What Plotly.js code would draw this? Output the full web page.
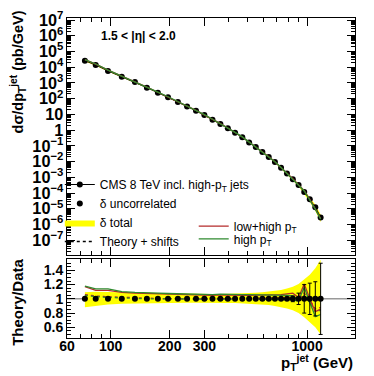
<!DOCTYPE html>
<html>
<head>
<meta charset="utf-8">
<script src="https://cdn.plot.ly/plotly-3.0.1.min.js"></script>
<style>
  html, body { margin: 0; padding: 0; background: #fff; }
  #chart { width: 374px; height: 376px; }
</style>
</head>
<body>
<div id="chart"></div>
<script>
// jet pT bins (GeV), 1.5 < |eta| < 2.0
const ptBins = [74, 84, 97, 114, 133, 153, 174, 196, 220, 245, 272, 300, 330, 362, 395,
    430, 468, 507, 548, 592, 638, 686, 737, 790, 846, 905, 967, 1032, 1101, 1172];

// measured cross section (pb/GeV)
const crossSection = [2.6e4, 1.4e4, 5.8e3, 2.5e3, 1.15e3, 500, 240, 123, 62, 32, 17, 9.1,
    4.6, 2.45, 1.29, 0.68, 0.35, 0.166, 0.083, 0.041, 0.0195, 0.0093, 0.0040, 1.74e-3,
    7.4e-4, 3.2e-4, 1.17e-4, 4.0e-5, 1.26e-5, 2.8e-6];

// relative uncertainties
const uncorrelated = [0.005, 0.005, 0.005, 0.005, 0.005, 0.005, 0.005, 0.005, 0.005, 0.005,
    0.005, 0.005, 0.005, 0.005, 0.005, 0.005, 0.006, 0.007, 0.008, 0.009, 0.01, 0.012,
    0.015, 0.02, 0.04, 0.08, 0.2, 0.22, 0.24, 0.5];
const totalUp = [0.094, 0.10, 0.095, 0.09, 0.09, 0.085, 0.08, 0.075, 0.072, 0.07, 0.068,
    0.067, 0.067, 0.068, 0.07, 0.072, 0.075, 0.08, 0.085, 0.092, 0.10, 0.11, 0.125, 0.145,
    0.17, 0.21, 0.27, 0.34, 0.43, 0.55];
const totalDown = [0.117, 0.10, 0.08, 0.07, 0.065, 0.06, 0.06, 0.058, 0.056, 0.055, 0.054,
    0.053, 0.053, 0.055, 0.057, 0.06, 0.064, 0.068, 0.073, 0.08, 0.088, 0.10, 0.115, 0.135,
    0.16, 0.20, 0.26, 0.33, 0.40, 0.50];

// theory / data
const ratioLowHigh = [1.17, 1.12, 1.12, 1.09, 1.08, 1.075, 1.07, 1.065, 1.06, 1.06, 1.055,
    1.055, 1.05, 1.055, 1.05, 1.05, 1.05, 1.05, 1.05, 1.05, 1.05, 1.05, 1.06, 1.07, 1.08,
    1.02, 1.21, 1.0, 0.82, 0.855];
const ratioHigh = [1.18, 1.14, 1.14, 1.10, 1.09, 1.08, 1.08, 1.075, 1.07, 1.065, 1.065,
    1.06, 1.06, 1.065, 1.06, 1.06, 1.06, 1.06, 1.06, 1.055, 1.055, 1.05, 1.05, 1.05, 1.04,
    0.98, 1.16, 0.96, 0.75, 0.78];
const shiftedLowHigh = [1.06, 1.04, 1.03, 1.02, 1.01, 1.01, 1.005, 1.0, 1.0, 1.0, 1.0, 1.0,
    1.0, 1.005, 1.0, 1.0, 1.0, 1.0, 1.0, 1.0, 1.0, 1.0, 1.005, 1.01, 1.02, 0.99, 1.08, 0.98,
    0.86, 0.88];
const shiftedHigh = [1.05, 1.03, 1.02, 1.01, 1.0, 1.0, 1.0, 1.0, 1.0, 0.995, 1.0, 1.0, 1.0,
    1.0, 1.0, 1.0, 1.0, 1.0, 1.0, 0.995, 0.995, 0.99, 0.99, 0.99, 0.99, 0.96, 1.05, 0.95,
    0.82, 0.84];

const xTickVals = [60, 100, 200, 300, 1000];
const xTickText = ["60", "100", "200", "300", "1000"];
const ratioTickVals = [0.6, 0.8, 1, 1.2, 1.4];
const ratioTickText = ["0.6", "0.8", "1", "1.2", "1.4"];
const unity = 1;

const RED = "#b52b2b";
const GREEN = "#2f8a2f";
const YELLOW = "#ffff00";
const FONT = "Liberation Sans, Arial, sans-serif";

const ones = ptBins.map(() => unity);
const bandTopUp = crossSection.map((v, i) => v * (1 + totalUp[i]));
const bandTopDown = crossSection.map((v, i) => v * (1 - totalDown[i]));
const bandRatioUp = totalUp.map((u) => unity + u);
const bandRatioDown = totalDown.map((d) => unity - d);

const traces = [
    // upper panel
    { x: ptBins, y: bandTopUp, xaxis: "x", yaxis: "y", mode: "lines",
      line: { width: 0, color: YELLOW }, showlegend: false, hoverinfo: "skip" },
    { x: ptBins, y: bandTopDown, xaxis: "x", yaxis: "y", mode: "lines", fill: "tonexty",
      fillcolor: YELLOW, line: { width: 0, color: YELLOW }, showlegend: false, hoverinfo: "skip" },
    { x: ptBins, y: crossSection, xaxis: "x", yaxis: "y", mode: "lines+markers",
      name: "CMS 8 TeV incl. high-p<sub>T</sub> jets", legend: "legend", legendrank: 1,
      line: { color: "#000", width: 1 }, marker: { color: "#000", size: 6 } },
    { x: ptBins, y: crossSection.map((v, i) => v * ratioLowHigh[i]), xaxis: "x", yaxis: "y",
      mode: "lines", line: { color: RED, width: 1.3 }, showlegend: false },
    { x: ptBins, y: crossSection.map((v, i) => v * ratioHigh[i]), xaxis: "x", yaxis: "y",
      mode: "lines", line: { color: GREEN, width: 1.3 }, showlegend: false },

    // ratio panel
    { x: ptBins, y: bandRatioUp, xaxis: "x2", yaxis: "y2", mode: "lines",
      line: { width: 0, color: YELLOW }, showlegend: false, hoverinfo: "skip" },
    { x: ptBins, y: bandRatioDown, xaxis: "x2", yaxis: "y2", mode: "lines", fill: "tonexty",
      fillcolor: YELLOW, line: { width: 0, color: YELLOW },
      name: "δ total", legend: "legend", legendrank: 3 },
    { x: ptBins, y: shiftedLowHigh, xaxis: "x2", yaxis: "y2", mode: "lines",
      line: { color: RED, width: 1.3, dash: "dot" }, showlegend: false },
    { x: ptBins, y: shiftedHigh, xaxis: "x2", yaxis: "y2", mode: "lines",
      line: { color: GREEN, width: 1.3, dash: "dot" }, showlegend: false },
    { x: ptBins, y: ratioLowHigh, xaxis: "x2", yaxis: "y2", mode: "lines",
      line: { color: RED, width: 1.3 }, name: "low+high p<sub>T</sub>", legend: "legend2" },
    { x: ptBins, y: ratioHigh, xaxis: "x2", yaxis: "y2", mode: "lines",
      line: { color: GREEN, width: 1.3 }, name: "high p<sub>T</sub>", legend: "legend3" },
    { x: ptBins, y: ones, xaxis: "x2", yaxis: "y2", mode: "markers",
      name: "δ uncorrelated", legend: "legend", legendrank: 2,
      marker: { color: "#000", size: 6 },
      error_y: { type: "data", array: uncorrelated, color: "#000", thickness: 1, width: 2 } },
    { x: [null], y: [null], xaxis: "x2", yaxis: "y2", mode: "lines",
      name: "Theory + shifts", legend: "legend", legendrank: 4,
      line: { color: "#000", width: 1.3, dash: "dot" } },
];

const xRange = [Math.log10(60), Math.log10(1753)];
const axisCommon = {
    type: "log",
    range: xRange,
    showline: true,
    linecolor: "#000",
    linewidth: 1,
    mirror: "allticks",
    ticks: "inside",
    ticklen: 8,
    tickcolor: "#000",
    showgrid: false,
    zeroline: false,
    tickvals: xTickVals,
    minor: { ticks: "inside", ticklen: 4, tickcolor: "#000", dtick: "D1", showgrid: false },
};

const legendFont = { family: FONT, size: 12, color: "#000" };
const tickFont = { family: FONT, size: 14, weight: "bold" };

const layout = {
    width: 374,
    height: 376,
    margin: { l: 67, r: 19, t: 18, b: 38 },
    paper_bgcolor: "#fff",
    plot_bgcolor: "#fff",
    font: { family: FONT, color: "#000" },
    xaxis: Object.assign({}, axisCommon, {
        anchor: "y",
        showticklabels: false,
    }),
    xaxis2: Object.assign({}, axisCommon, {
        anchor: "y2",
        matches: "x",
        ticktext: xTickText,
        tickfont: tickFont,
        ticklabelstandoff: -5,
    }),
    yaxis: {
        type: "log",
        domain: [0.259, 1],
        range: [-7.95, 7.13],
        dtick: 1,
        exponentformat: "power",
        showline: true,
        linecolor: "#000",
        mirror: "allticks",
        ticks: "inside",
        ticklen: 8,
        tickcolor: "#000",
        showgrid: false,
        zeroline: false,
        tickfont: { family: FONT, size: 13, weight: "bold" },
        minor: { ticks: "inside", ticklen: 4, tickcolor: "#000", dtick: "D1", showgrid: false },
    },
    yaxis2: {
        domain: [0, 0.247],
        range: [0.45, 1.56],
        tickvals: ratioTickVals,
        ticktext: ratioTickText,
        showline: true,
        linecolor: "#000",
        mirror: "allticks",
        ticks: "inside",
        ticklen: 8,
        tickcolor: "#000",
        showgrid: false,
        zeroline: false,
        tickfont: { family: FONT, size: 14, weight: "bold" },
        minor: { ticks: "inside", ticklen: 4, tickcolor: "#000", dtick: 0.05, showgrid: false },
    },
    shapes: [
        { type: "line", xref: "x2 domain", yref: "y2", x0: 0, x1: 1, y0: unity, y1: unity,
          line: { color: "#999", width: 1.5 }, layer: "below" },
    ],
    legend: {
        x: -0.025, y: 0.525, xanchor: "left", yanchor: "top",
        bgcolor: "rgba(0,0,0,0)", font: legendFont, traceorder: "normal",
    },
    legend2: {
        x: 0.44, y: 0.395, xanchor: "left", yanchor: "top",
        bgcolor: "rgba(0,0,0,0)", font: legendFont,
    },
    legend3: {
        x: 0.44, y: 0.355, xanchor: "left", yanchor: "top",
        bgcolor: "rgba(0,0,0,0)", font: legendFont,
    },
    annotations: [
        { text: "1.5 < |η| < 2.0", xref: "paper", yref: "paper", x: 0.11, y: 0.944,
          xanchor: "left", yanchor: "middle", showarrow: false,
          font: { family: FONT, size: 12, weight: "bold" } },
        { text: "dσ/dp<sub>T</sub><sup>jet</sup> (pb/GeV)", xref: "paper", yref: "paper",
          x: -0.17, y: 0.83, xanchor: "center", yanchor: "middle", textangle: -90,
          showarrow: false, font: { family: FONT, size: 14.5, weight: "bold" } },
        { text: "Theory/Data", xref: "paper", yref: "paper",
          x: -0.17, y: 0.11, xanchor: "center", yanchor: "middle", textangle: -90,
          showarrow: false, font: { family: FONT, size: 15, weight: "bold" } },
        { text: "p<sub>T</sub><sup>jet</sup> (GeV)", xref: "paper", yref: "paper",
          x: 1, y: -0.115, xanchor: "right", yanchor: "bottom",
          showarrow: false, font: { family: FONT, size: 15, weight: "bold" } },
    ],
};

Plotly.newPlot("chart", traces, layout, { staticPlot: true, displayModeBar: false });
</script>
</body>
</html>
